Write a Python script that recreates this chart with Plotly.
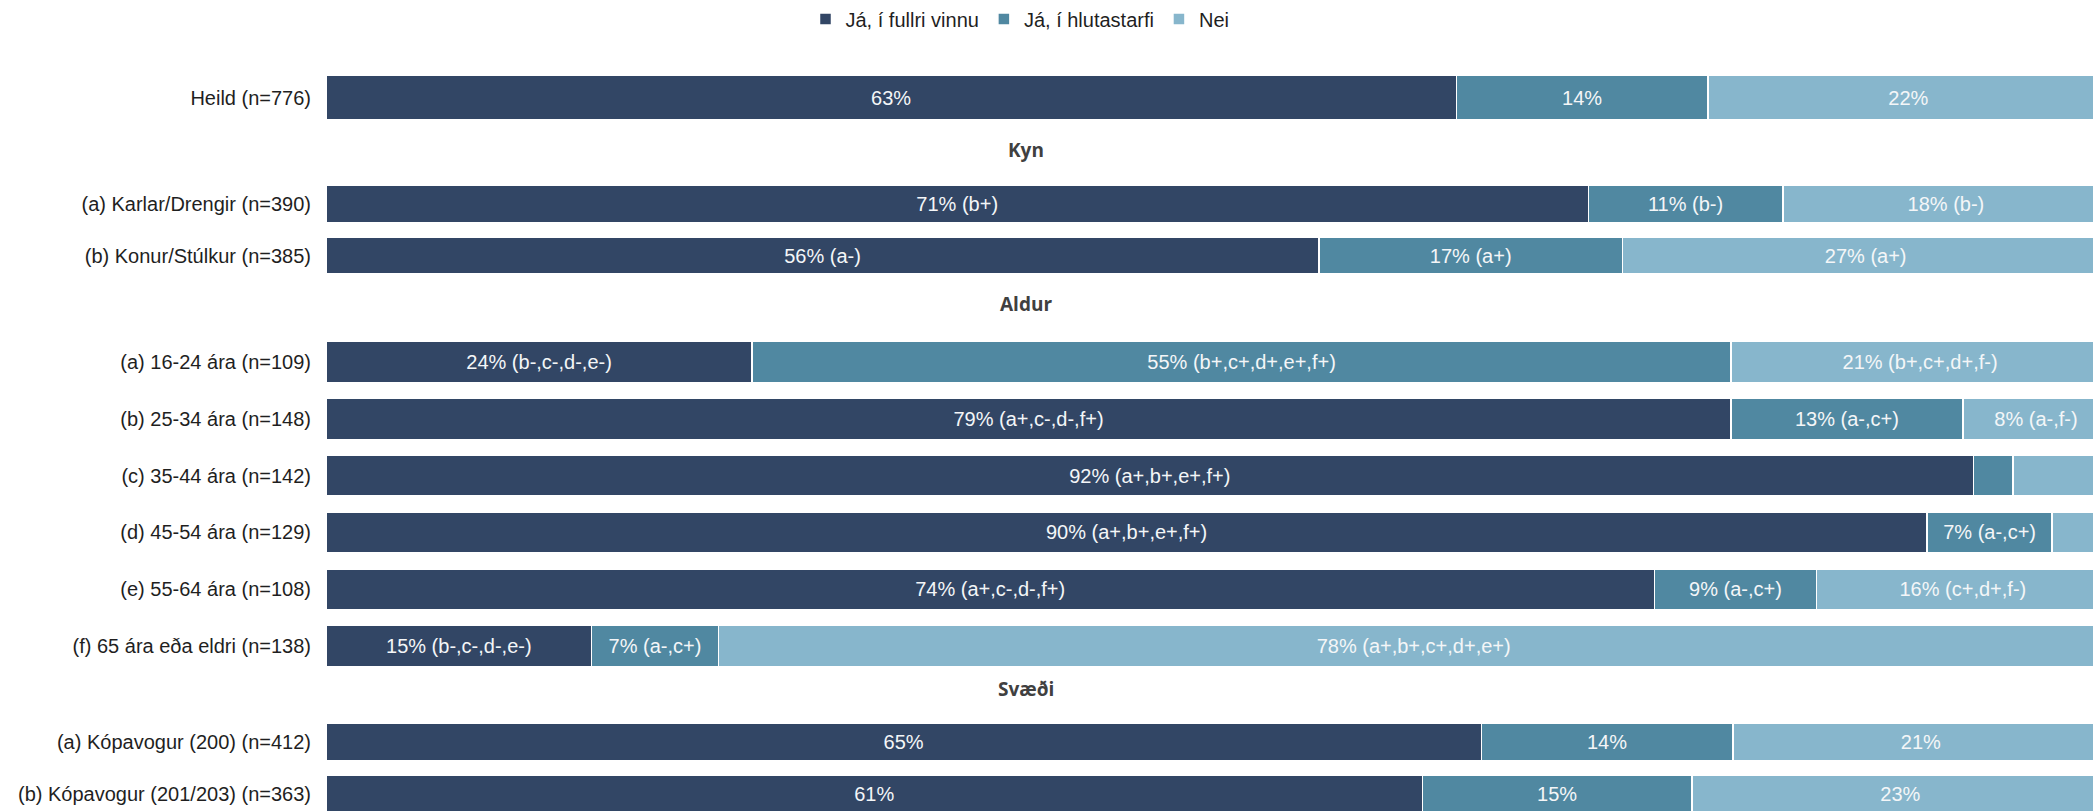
import plotly.graph_objects as go
from plotly.subplots import make_subplots

# ---------------- data ----------------
group_titles = ["", "Kyn", "Aldur", "Svæði"]

categories = [
    "Heild (n=776)",
    "(a) Karlar/Drengir (n=390)",
    "(b) Konur/Stúlkur (n=385)",
    "(a) 16-24 ára (n=109)",
    "(b) 25-34 ára (n=148)",
    "(c) 35-44 ára (n=142)",
    "(d) 45-54 ára (n=129)",
    "(e) 55-64 ára (n=108)",
    "(f) 65 ára eða eldri (n=138)",
    "(a) Kópavogur (200) (n=412)",
    "(b) Kópavogur (201/203) (n=363)",
]
row_group = [0, 1, 1, 2, 2, 2, 2, 2, 2, 3, 3]

series_names = ["Já, í fullri vinnu", "Já, í hlutastarfi", "Nei"]

full_time = [63.4, 70.8, 55.7, 23.9, 78.8, 92.4, 89.8, 74.5, 14.9, 64.8, 61.5]
part_time = [14.1, 10.9, 17.0, 54.9, 13.0, 2.2, 7.0, 9.1, 7.1, 14.1, 15.1]
no_work = [22.5, 18.3, 27.3, 21.2, 8.2, 5.4, 3.2, 16.4, 78.0, 21.1, 23.4]

full_time_labels = ["63%", "71% (b+)", "56% (a-)", "24% (b-,c-,d-,e-)", "79% (a+,c-,d-,f+)",
                    "92% (a+,b+,e+,f+)", "90% (a+,b+,e+,f+)", "74% (a+,c-,d-,f+)",
                    "15% (b-,c-,d-,e-)", "65%", "61%"]
part_time_labels = ["14%", "11% (b-)", "17% (a+)", "55% (b+,c+,d+,e+,f+)", "13% (a-,c+)",
                    "", "7% (a-,c+)", "9% (a-,c+)", "7% (a-,c+)", "14%", "15%"]
no_work_labels = ["22%", "18% (b-)", "27% (a+)", "21% (b+,c+,d+,f-)", "8% (a-,f-)",
                  "", "", "16% (c+,d+,f-)", "78% (a+,b+,c+,d+,e+)", "21%", "23%"]

colors = ["#324665", "#5088a1", "#87b6cc"]

# ---------------- layout geometry (pixels) ----------------
W, H = 2093, 811
LEFT = 326
# y-domains in pixels from the top, per group: (top, bottom)
dom_px = [(66.25, 128.75), (178.25, 281.25), (333.6, 674.4), (716.0, 811.0)]
y_ranges = [[0.5, -0.5], [1.5, -0.5], [5.5, -0.5], [1.327, -0.5]]
header_y_px = [None, 150, 304, 689]
x_max = 99.1

fig = make_subplots(rows=4, cols=1, shared_xaxes=True, vertical_spacing=0.0)

all_vals = [full_time, part_time, no_work]
all_labels = [full_time_labels, part_time_labels, no_work_labels]

for g in range(4):
    idx = [i for i, rg in enumerate(row_group) if rg == g]
    cats = [categories[i] for i in idx]
    for s in range(3):
        fig.add_trace(
            go.Bar(
                y=cats,
                x=[all_vals[s][i] for i in idx],
                text=[all_labels[s][i] for i in idx],
                orientation="h",
                name=series_names[s],
                legendgroup=series_names[s],
                showlegend=(g == 0),
                marker=dict(color=colors[s], line=dict(color="white", width=1.5)),
                textposition="inside",
                insidetextanchor="middle",
                textfont=dict(family="Liberation Sans, Arial, sans-serif", size=20, color="#f4f6f8"),
                hoverinfo="skip",
            ),
            row=g + 1, col=1,
        )

for g in range(4):
    top, bot = dom_px[g]
    yname = "yaxis" if g == 0 else f"yaxis{g + 1}"
    xname = "xaxis" if g == 0 else f"xaxis{g + 1}"
    fig.layout[yname].update(
        domain=[1 - bot / H, 1 - top / H],
        range=y_ranges[g],
        showgrid=False,
        zeroline=False,
        showline=False,
        ticks="",
        ticklabelstandoff=14,
        automargin=False,
        tickfont=dict(family="Liberation Sans, Arial, sans-serif", size=20, color="#1f1f1f"),
        fixedrange=True,
    )
    fig.layout[xname].update(
        range=[0, x_max],
        showgrid=False,
        zeroline=False,
        showline=False,
        showticklabels=False,
        ticks="",
        automargin=False,
    )

plot_w = W - LEFT
annotations = []
for g in range(1, 4):
    annotations.append(dict(
        text="<b>" + group_titles[g] + "</b>",
        xref="paper", yref="paper",
        x=(1026 - LEFT) / plot_w, y=1 - header_y_px[g] / H,
        xanchor="center", yanchor="middle",
        showarrow=False,
        font=dict(family="Open Sans, Lato, sans-serif", size=19, color="#404040"),
    ))

fig.update_layout(
    width=W, height=H,
    barmode="stack",
    bargap=0.28,
    margin=dict(l=LEFT, r=0, t=0, b=0, autoexpand=False),
    plot_bgcolor="white",
    paper_bgcolor="white",
    annotations=annotations,
    legend=dict(
        orientation="h",
        x=(1020 - LEFT) / plot_w, y=1 - 19 / H,
        xanchor="center", yanchor="middle",
        font=dict(family="Liberation Sans, Arial, sans-serif", size=20, color="#1f1f1f"),
        traceorder="normal",
        itemwidth=30,
    ),
    font=dict(family="Liberation Sans, Arial, sans-serif"),
)

fig.write_html(
    "out.html",
    config={"displayModeBar": False},
    post_script="document.body.style.margin='0px';document.documentElement.style.overflow='hidden';",
)
